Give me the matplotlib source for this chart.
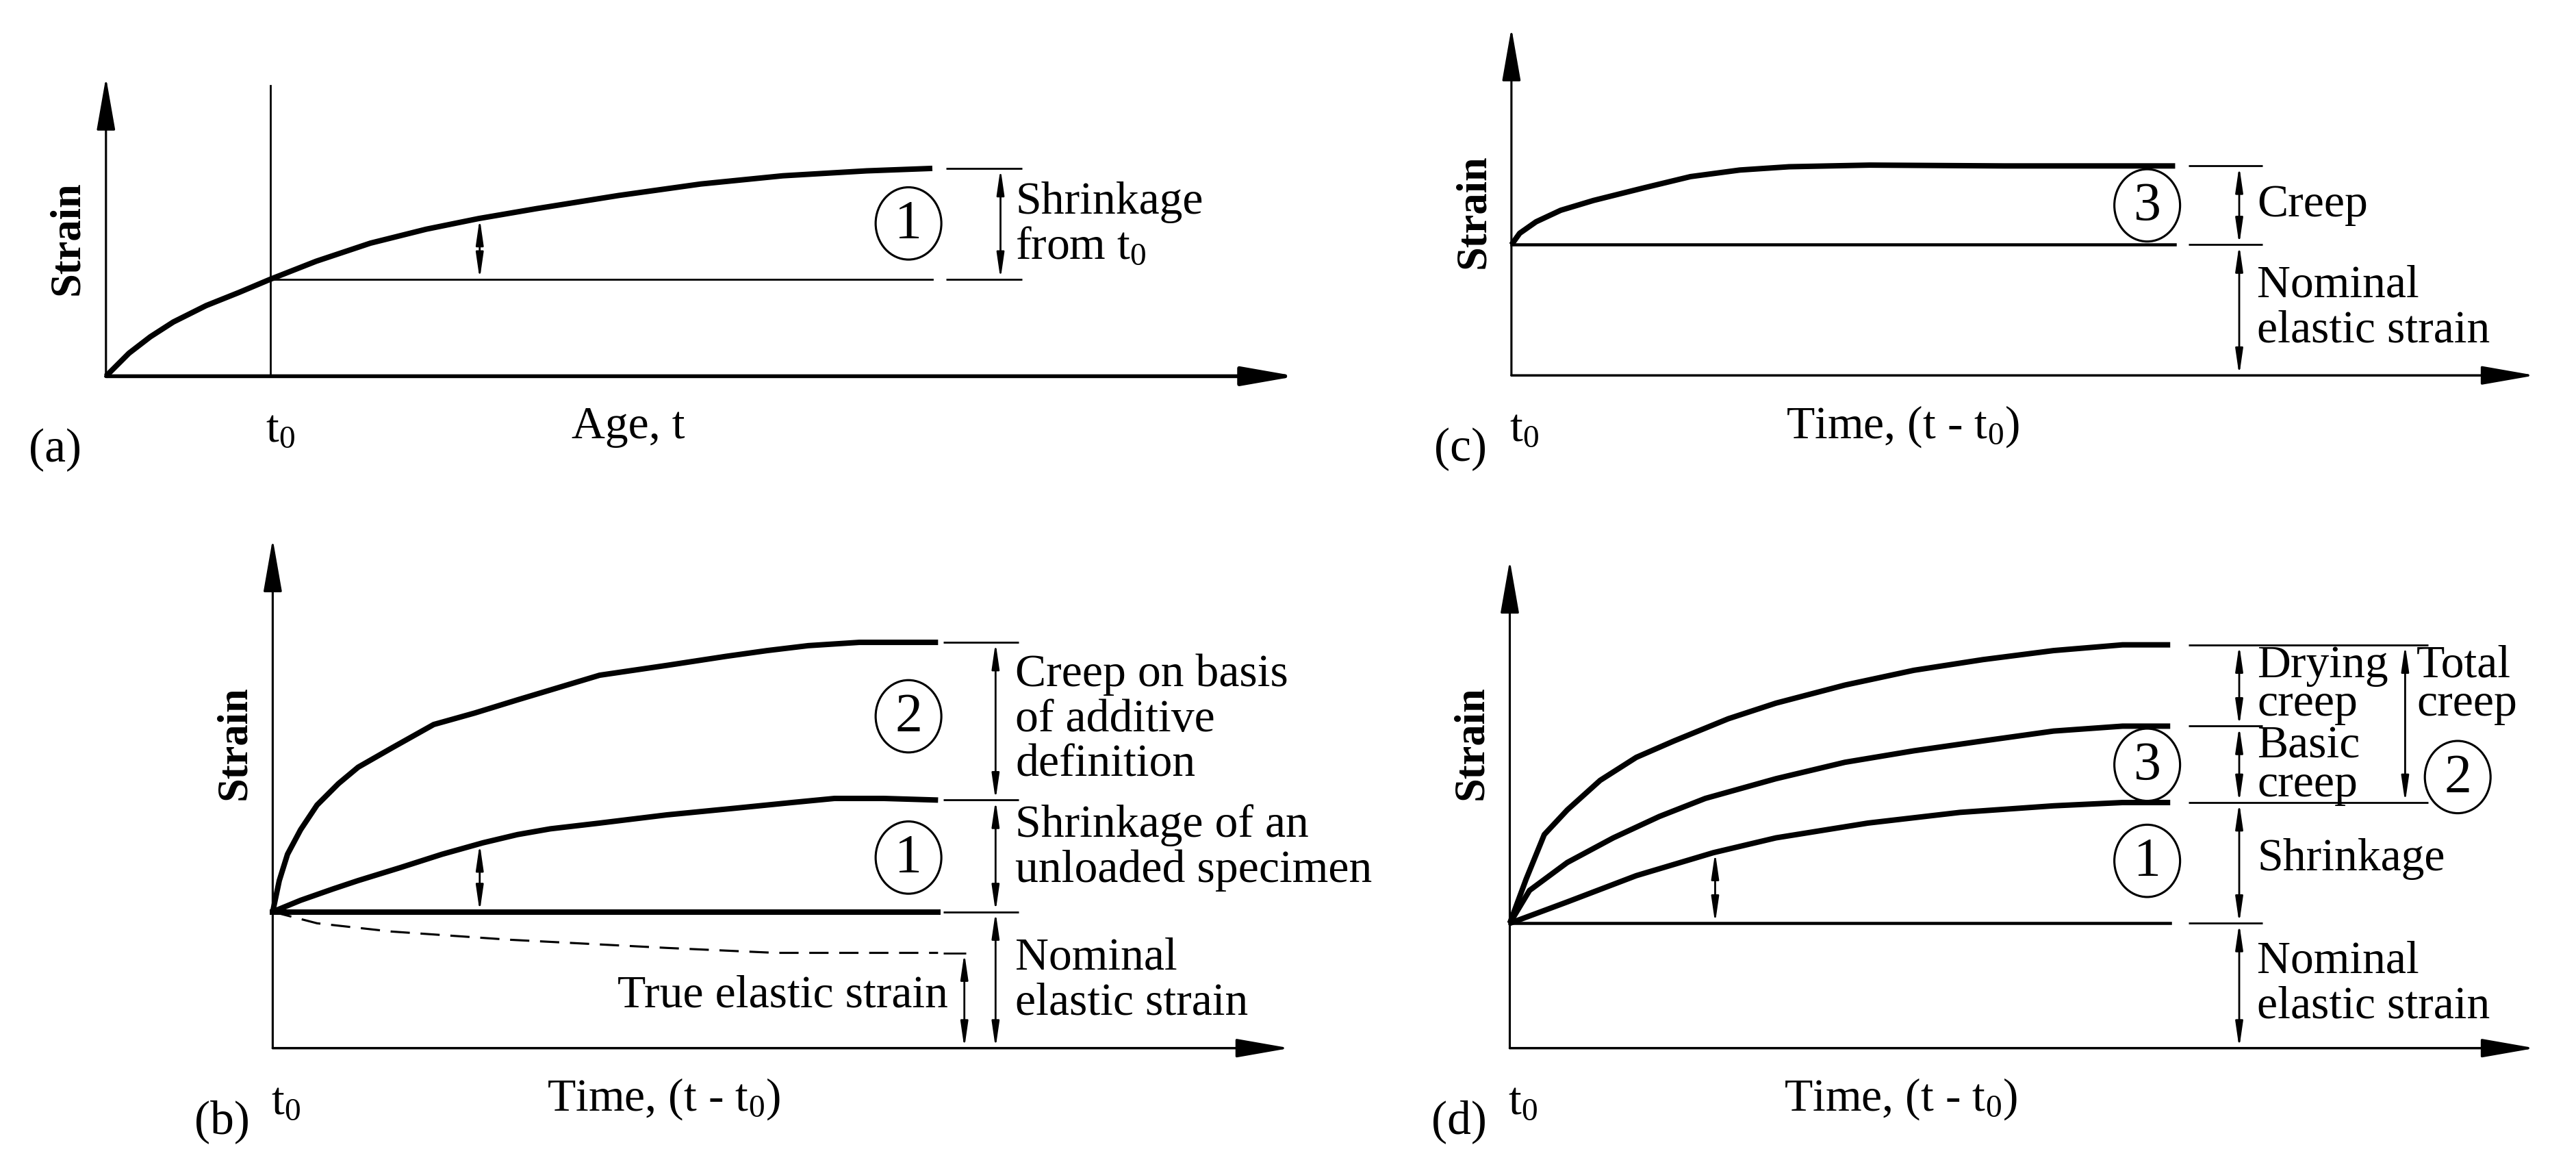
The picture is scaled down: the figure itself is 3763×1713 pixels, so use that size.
import numpy as np
import matplotlib.pyplot as plt
from matplotlib.patches import Ellipse

plt.rcParams['font.family'] = ['Liberation Serif', 'DejaVu Serif']
plt.rcParams['mathtext.fontset'] = 'custom'
plt.rcParams['mathtext.rm'] = 'Liberation Serif'
plt.rcParams['mathtext.it'] = 'Liberation Serif:italic'

a_time = [0, 14, 27, 41, 61, 81, 100, 128, 161, 195, 227, 262, 312, 362, 412, 463, 503]
a_shrink = [0, 14, 24, 33, 43, 51, 59, 70, 81, 89.5, 96, 102, 110, 117, 122, 125, 126.5]
a_t0 = 100

b_time_creep = [0, 4, 9, 17, 27, 40, 52, 73, 98, 123, 149, 174, 199, 240, 276, 301, 326, 357, 405]
b_creep = [83, 102, 118, 133, 148, 161, 171, 183, 197, 204, 212, 219.5, 227, 233, 238.5, 242, 245, 247, 247]
b_time_shrink = [0, 17, 37, 52, 78, 103, 128, 149, 169, 199, 240, 281, 316, 342, 372, 405]
b_shrink = [83, 90, 97, 102, 110, 118, 125, 130, 133.5, 137, 142, 146, 149.5, 152, 152, 151]
b_time_true = [0, 27, 72, 144, 240, 306, 405]
b_true = [83, 76, 71, 66, 61, 58, 58]
b_elastic = 83

c_time = [0, 5, 15, 30, 50, 80, 109, 139, 169, 218, 300, 404]
c_creep = [79.5, 86.5, 93.5, 100.5, 106.5, 114, 121, 125, 127, 128, 127.5, 127.5]
c_elastic = 79.5

d_time_total = [0, 10, 21, 35, 55, 77, 100, 133, 162, 204, 246, 288, 331, 373, 402]
d_total = [76, 103, 130, 145, 163, 177, 187, 200.5, 210, 221, 230, 236.5, 242, 245.5, 245.5]
d_time_basic = [0, 12, 35, 63, 91, 119, 162, 204, 246, 288, 331, 373, 402]
d_basic = [76, 96, 113, 128, 141, 152, 164, 174, 181, 187, 193, 196, 196]
d_time_shrink = [0, 35, 77, 124, 162, 218, 274, 331, 373, 402]
d_shrink = [76, 89, 105, 119, 128, 137, 143.5, 147.5, 149.5, 149.5]
d_elastic = 76

FS = 19.5
THICK = 2.3
THIN = 0.8

fig = plt.figure(figsize=(15.052, 6.852), dpi=250)
W, H = 1568, 714


def panel(ox, oy):
    # full-figure axes with origin at the corner of the panel's axes
    ax = fig.add_axes([0, 0, 1, 1])
    ax.set_xlim(-ox, W - ox)
    ax.set_ylim(oy - H, oy)
    ax.axis('off')
    return ax


def axes_arrows(ax, xtip, ytip, lwx=1.0, lwy=0.9):
    st = '-|>,head_length=0.97,head_width=0.17'
    ax.annotate('', xy=(xtip, 0), xytext=(0, 0),
                arrowprops=dict(arrowstyle=st, lw=lwx, color='k', shrinkA=0, shrinkB=0, mutation_scale=20))
    ax.annotate('', xy=(0, ytip), xytext=(0, 0),
                arrowprops=dict(arrowstyle=st, lw=lwy, color='k', shrinkA=0, shrinkB=0, mutation_scale=20))


def dim(ax, x, y0, y1):
    ax.annotate('', xy=(x, y1), xytext=(x, y0),
                arrowprops=dict(arrowstyle='<|-|>,head_length=0.45,head_width=0.065', lw=THIN,
                                color='k', shrinkA=0, shrinkB=0, mutation_scale=20))


def tick(ax, x0, x1, y):
    ax.plot([x0, x1], [y, y], color='k', lw=THIN, solid_capstyle='butt')


def circled(ax, x, y, s):
    ax.add_patch(Ellipse((x, y), 40, 44, fill=False, lw=0.9, color='k'))
    ax.text(x, y - 1, s, ha='center', va='center', fontsize=23)


def labels(ax, tag, strain_y, t0_x=-1, xlabel='Time, (t - t$_0$)', xlabel_x=238):
    ax.text(-23, strain_y, 'Strain', rotation=90, ha='center', va='center', fontsize=18, fontweight='bold')
    ax.text(-31, -45, tag, ha='center', va='center', fontsize=20)
    ax.text(t0_x, -33, 't$_0$', ha='left', va='center', fontsize=FS)
    ax.text(xlabel_x, -31, xlabel, ha='center', va='center', fontsize=FS)


def curve(ax, t, y, lw=THICK):
    ax.plot(t, y, color='k', lw=lw, solid_joinstyle='round', solid_capstyle='butt')


# (a) shrinkage
ax = panel(64.5, 229)
axes_arrows(ax, 724.5, 182, lwx=1.6)
curve(ax, a_time, a_shrink)
ax.plot([a_t0, a_t0], [0, 177], color='k', lw=THIN)
y_t0 = np.interp(a_t0, a_time, a_shrink)
ax.plot([a_t0, a_time[-1]], [y_t0, y_t0], color='k', lw=THIN)
tick(ax, 511.5, 557.5, a_shrink[-1])
tick(ax, 511.5, 557.5, y_t0)
dim(ax, 544.5, y_t0, a_shrink[-1])
dim(ax, 227.5, y_t0, np.interp(227.5, a_time, a_shrink))
circled(ax, 488.5, 93, '1')
ax.text(553.5, 92, 'Shrinkage\nfrom t$_0$', ha='left', va='center', fontsize=FS, linespacing=1.1)
labels(ax, '(a)', 84, t0_x=a_t0 - 3, xlabel='Age, t', xlabel_x=318)

# (b) creep, additive definition
ax = panel(166, 638)
axes_arrows(ax, 619, 310)
curve(ax, b_time_creep, b_creep)
curve(ax, b_time_shrink, b_shrink)
ax.plot([0, b_time_creep[-1]], [b_elastic, b_elastic], color='k', lw=THICK)
ax.plot(b_time_true, b_true, color='k', lw=0.9, dashes=(9, 5))
for y in (b_creep[-1], b_shrink[-1], b_elastic):
    tick(ax, 408, 454, y)
tick(ax, 408, 422, b_true[-1])
dim(ax, 440, b_shrink[-1], b_creep[-1])
dim(ax, 440, b_elastic, b_shrink[-1])
dim(ax, 440, 0, b_elastic)
dim(ax, 421, 0, b_true[-1])
dim(ax, 126, b_elastic, np.interp(126, b_time_shrink, b_shrink))
circled(ax, 387, 202, '2')
circled(ax, 387, 116, '1')
ax.text(452, 200, 'Creep on basis\nof additive\ndefinition', ha='left', va='center', fontsize=FS, linespacing=1.1)
ax.text(452, 122, 'Shrinkage of an\nunloaded specimen', ha='left', va='center', fontsize=FS, linespacing=1.1)
ax.text(452, 41, 'Nominal\nelastic strain', ha='left', va='center', fontsize=FS, linespacing=1.1)
ax.text(411, 32, 'True elastic strain', ha='right', va='center', fontsize=FS)
labels(ax, '(b)', 186)

# (c) basic creep, sealed specimen
ax = panel(920, 228.5)
axes_arrows(ax, 623, 211.5)
curve(ax, c_time, c_creep)
ax.plot([0, c_time[-1]], [c_elastic, c_elastic], color='k', lw=1.3)
tick(ax, 412, 457, c_creep[-1])
tick(ax, 412, 457, c_elastic)
dim(ax, 443, c_elastic, c_creep[-1])
dim(ax, 443, 0, c_elastic)
circled(ax, 387, 103.5, '3')
ax.text(454, 103.5, 'Creep', ha='left', va='center', fontsize=FS)
ax.text(454, 41, 'Nominal\nelastic strain', ha='left', va='center', fontsize=FS, linespacing=1.1)
labels(ax, '(c)', 100)

# (d) drying + basic creep
ax = panel(919, 638)
axes_arrows(ax, 624, 297)
curve(ax, d_time_total, d_total)
curve(ax, d_time_basic, d_basic)
curve(ax, d_time_shrink, d_shrink)
ax.plot([0, d_time_total[-1]], [d_elastic, d_elastic], color='k', lw=1.3)
tick(ax, 413, 559, d_total[-1])
tick(ax, 413, 458, d_basic[-1])
tick(ax, 413, 559, d_shrink[-1])
tick(ax, 413, 458, d_elastic)
dim(ax, 444, d_basic[-1], d_total[-1])
dim(ax, 444, d_shrink[-1], d_basic[-1])
dim(ax, 444, d_elastic, d_shrink[-1])
dim(ax, 444, 0, d_elastic)
dim(ax, 545, d_shrink[-1], d_total[-1])
dim(ax, 125, d_elastic, np.interp(125, d_time_shrink, d_shrink))
circled(ax, 388, 172.5, '3')
circled(ax, 388, 114, '1')
circled(ax, 577, 165, '2')
ax.text(455, 221, 'Drying\ncreep', ha='left', va='center', fontsize=FS, linespacing=0.9)
ax.text(455, 172, 'Basic\ncreep', ha='left', va='center', fontsize=FS, linespacing=0.9)
ax.text(552, 221, 'Total\ncreep', ha='left', va='center', fontsize=FS, linespacing=0.9)
ax.text(455, 115, 'Shrinkage', ha='left', va='center', fontsize=FS)
ax.text(455, 39, 'Nominal\nelastic strain', ha='left', va='center', fontsize=FS, linespacing=1.1)
labels(ax, '(d)', 186)

fig.savefig('out.png', dpi=250, facecolor='white')
